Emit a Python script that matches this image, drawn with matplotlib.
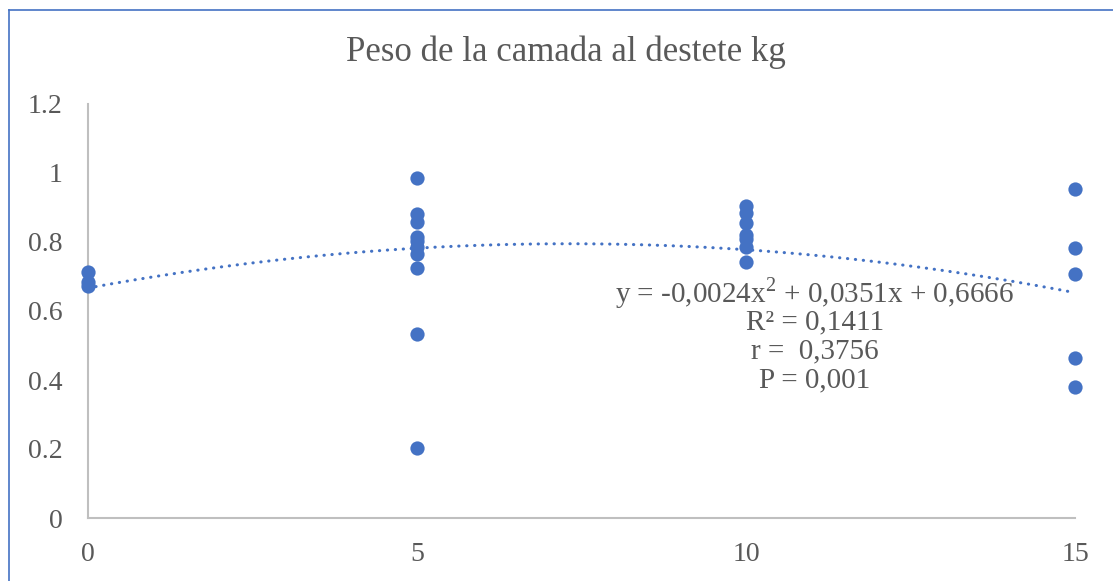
import numpy as np
import matplotlib
matplotlib.use("Agg")
import matplotlib.pyplot as plt
from matplotlib.lines import Line2D

# Data
x0_vals = [0.713, 0.684, 0.672]
x5_vals = [0.986, 0.880, 0.857, 0.815, 0.803, 0.785, 0.764, 0.724, 0.533, 0.202]
x10_vals = [0.904, 0.883, 0.856, 0.820, 0.808, 0.786, 0.743]
x15_vals = [0.953, 0.782, 0.706, 0.465, 0.379]
groups = [0, 5, 10, 15]
poly_coef = [-0.0024, 0.0351, 0.6666]
title = "Peso de la camada al destete kg"
eq_lines = ["y = -0,0024x$^{2}$ + 0,0351x + 0,6666", "R² = 0,1411", "r =  0,3756", "P = 0,001"]
yticks = [0, 0.2, 0.4, 0.6, 0.8, 1.0, 1.2]
yticklabels = ["0", "0.2", "0.4", "0.6", "0.8", "1", "1.2"]
xticks = [0, 5, 10, 15]

plt.rcParams['font.family'] = ['Liberation Serif', 'DejaVu Serif']
plt.rcParams['mathtext.fontset'] = 'custom'
plt.rcParams['mathtext.rm'] = 'Liberation Serif'

W, H = 1113, 581
fig = plt.figure(figsize=(W/100, H/100), dpi=100)
ax = fig.add_axes([88/W, 1-518/H, (1075-88)/W, (518-104)/H])

blue = '#4472C4'
grey_text = '#595959'
axis_grey = '#BFBFBF'

xs, ys = [], []
for g, vals in zip(groups, [x0_vals, x5_vals, x10_vals, x15_vals]):
    xs += [g]*len(vals)
    ys += vals
ax.scatter(xs, ys, s=105, color=blue, zorder=3, linewidths=0, clip_on=False)

xx = np.linspace(0, 15, 300)
yy = np.polyval(poly_coef, xx)
ax.plot(xx, yy, color=blue, lw=2.2, linestyle=(0, (0.1, 2.5)), dash_capstyle='round', zorder=2)

ax.set_xlim(0, 15)
ax.set_ylim(0, 1.2)
ax.set_xticks(xticks)
ax.set_xticklabels([str(t) for t in xticks])
ax.set_yticks(yticks)
ax.set_yticklabels(yticklabels)
ax.tick_params(length=0, labelsize=20, colors=grey_text)
ax.tick_params(axis='y', pad=18.5)
ax.tick_params(axis='x', pad=17)
for s in ['top', 'right']:
    ax.spines[s].set_visible(False)
for s in ['left', 'bottom']:
    ax.spines[s].set_color(axis_grey)
    ax.spines[s].set_linewidth(1.5)
ax.patch.set_alpha(0)

fig.text(566/W, 1-52/H, title, ha='center', va='center', fontsize=25, color=grey_text)

ypos = [293, 322, 351, 380]
for t, yp in zip(eq_lines, ypos):
    fig.text(815/W, 1-yp/H, t, ha='center', va='center', fontsize=21, color=grey_text)

# Border (left and top edges visible)
fig.add_artist(Line2D([8.5/W, 8.5/W], [0, 1-9.5/H], color=blue, lw=1.2, transform=fig.transFigure))
fig.add_artist(Line2D([8.5/W, 1], [1-9.5/H, 1-9.5/H], color=blue, lw=1.2, transform=fig.transFigure))

fig.savefig("out.png", dpi=100)
